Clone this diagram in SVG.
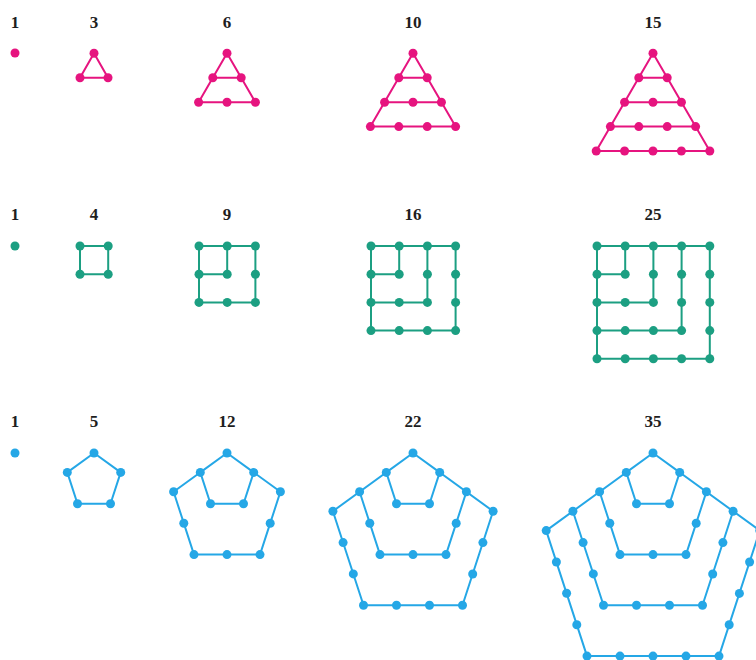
<svg xmlns="http://www.w3.org/2000/svg" width="756" height="660" viewBox="0 0 756 660">
<style>
text{font-family:"Liberation Serif","DejaVu Serif",serif;font-weight:bold;font-size:17px;fill:#1e1e1e;text-anchor:middle}
.tri path{fill:none;stroke:#e6147f;stroke-width:2;stroke-linejoin:round}
.tri circle{fill:#e6147f}
.sq path{fill:none;stroke:#1c9f82;stroke-width:2}
.sq circle{fill:#1c9f82}
.pe path{fill:none;stroke:#25a7e6;stroke-width:2;stroke-linejoin:round}
.pe circle{fill:#25a7e6}
circle{r:4.5}
</style>
<rect width="756" height="660" fill="#fff"/>
<g id="labels">
<text x="15" y="28">1</text><text x="94" y="28">3</text><text x="227" y="28">6</text><text x="413" y="28">10</text><text x="653" y="28">15</text>
<text x="15" y="220">1</text><text x="94" y="220">4</text><text x="227" y="220">9</text><text x="413" y="220">16</text><text x="653" y="220">25</text>
<text x="15" y="427">1</text><text x="94" y="427">5</text><text x="227" y="427">12</text><text x="413" y="427">22</text><text x="653" y="427">35</text>
</g>
<!-- Triangular numbers -->
<g id="tri1" class="tri"><circle cx="15" cy="53" r="4.5"/></g>
<g id="tri3" class="tri">
<path d="M94,53.3 L80,77.8 H108 Z"/>
<circle cx="94" cy="53.3" r="4.5"/><circle cx="80" cy="77.8" r="4.5"/><circle cx="108" cy="77.8" r="4.5"/>
</g>
<g id="tri6" class="tri">
<path d="M227,53.3 L198.6,102.2 H255.4 Z M212.8,77.8 H241.2"/>
<circle cx="227" cy="53.3" r="4.5"/><circle cx="212.8" cy="77.8" r="4.5"/><circle cx="241.2" cy="77.8" r="4.5"/>
<circle cx="198.6" cy="102.2" r="4.5"/><circle cx="227" cy="102.2" r="4.5"/><circle cx="255.4" cy="102.2" r="4.5"/>
</g>
<g id="tri10" class="tri">
<path d="M413,53.3 L370.4,126.6 H455.6 Z M398.8,77.8 H427.2 M384.6,102.2 H441.4"/>
<circle cx="413" cy="53.3" r="4.5"/><circle cx="398.8" cy="77.8" r="4.5"/><circle cx="427.2" cy="77.8" r="4.5"/>
<circle cx="384.6" cy="102.2" r="4.5"/><circle cx="413" cy="102.2" r="4.5"/><circle cx="441.4" cy="102.2" r="4.5"/>
<circle cx="370.4" cy="126.6" r="4.5"/><circle cx="398.8" cy="126.6" r="4.5"/><circle cx="427.2" cy="126.6" r="4.5"/><circle cx="455.6" cy="126.6" r="4.5"/>
</g>
<g id="tri15" class="tri">
<path d="M653,53.3 L596.2,151 H709.8 Z M638.8,77.8 H667.2 M624.6,102.2 H681.4 M610.4,126.6 H695.6"/>
<circle cx="653" cy="53.3" r="4.5"/><circle cx="638.8" cy="77.8" r="4.5"/><circle cx="667.2" cy="77.8" r="4.5"/>
<circle cx="624.6" cy="102.2" r="4.5"/><circle cx="653" cy="102.2" r="4.5"/><circle cx="681.4" cy="102.2" r="4.5"/>
<circle cx="610.4" cy="126.6" r="4.5"/><circle cx="638.8" cy="126.6" r="4.5"/><circle cx="667.2" cy="126.6" r="4.5"/><circle cx="695.6" cy="126.6" r="4.5"/>
<circle cx="596.2" cy="151" r="4.5"/><circle cx="624.6" cy="151" r="4.5"/><circle cx="653" cy="151" r="4.5"/><circle cx="681.4" cy="151" r="4.5"/><circle cx="709.8" cy="151" r="4.5"/>
</g>
<!-- Square numbers -->
<g id="sq1" class="sq"><circle cx="15" cy="246" r="4.5"/></g>
<g id="sq4" class="sq">
<path d="M80,246 H108.2 V274.2 H80 Z"/>
<circle cx="80" cy="246" r="4.5"/><circle cx="108.2" cy="246" r="4.5"/><circle cx="80" cy="274.2" r="4.5"/><circle cx="108.2" cy="274.2" r="4.5"/>
</g>
<g id="sq9" class="sq">
<path d="M199,246 H255.4 V302.4 H199 Z M227.2,246 V274.2 H199"/>
<circle cx="199" cy="246" r="4.5"/><circle cx="227.2" cy="246" r="4.5"/><circle cx="255.4" cy="246" r="4.5"/>
<circle cx="199" cy="274.2" r="4.5"/><circle cx="227.2" cy="274.2" r="4.5"/><circle cx="255.4" cy="274.2" r="4.5"/>
<circle cx="199" cy="302.4" r="4.5"/><circle cx="227.2" cy="302.4" r="4.5"/><circle cx="255.4" cy="302.4" r="4.5"/>
</g>
<g id="sq16" class="sq">
<path d="M371,246 H455.6 V330.6 H371 Z M399.2,246 V274.2 H371 M427.4,246 V302.4 H371"/>
<circle cx="371" cy="246" r="4.5"/><circle cx="399.2" cy="246" r="4.5"/><circle cx="427.4" cy="246" r="4.5"/><circle cx="455.6" cy="246" r="4.5"/>
<circle cx="371" cy="274.2" r="4.5"/><circle cx="399.2" cy="274.2" r="4.5"/><circle cx="427.4" cy="274.2" r="4.5"/><circle cx="455.6" cy="274.2" r="4.5"/>
<circle cx="371" cy="302.4" r="4.5"/><circle cx="399.2" cy="302.4" r="4.5"/><circle cx="427.4" cy="302.4" r="4.5"/><circle cx="455.6" cy="302.4" r="4.5"/>
<circle cx="371" cy="330.6" r="4.5"/><circle cx="399.2" cy="330.6" r="4.5"/><circle cx="427.4" cy="330.6" r="4.5"/><circle cx="455.6" cy="330.6" r="4.5"/>
</g>
<g id="sq25" class="sq">
<path d="M597,246 H709.8 V358.8 H597 Z M625.2,246 V274.2 H597 M653.4,246 V302.4 H597 M681.6,246 V330.6 H597"/>
<circle cx="597" cy="246" r="4.5"/><circle cx="625.2" cy="246" r="4.5"/><circle cx="653.4" cy="246" r="4.5"/><circle cx="681.6" cy="246" r="4.5"/><circle cx="709.8" cy="246" r="4.5"/>
<circle cx="597" cy="274.2" r="4.5"/><circle cx="625.2" cy="274.2" r="4.5"/><circle cx="653.4" cy="274.2" r="4.5"/><circle cx="681.6" cy="274.2" r="4.5"/><circle cx="709.8" cy="274.2" r="4.5"/>
<circle cx="597" cy="302.4" r="4.5"/><circle cx="625.2" cy="302.4" r="4.5"/><circle cx="653.4" cy="302.4" r="4.5"/><circle cx="681.6" cy="302.4" r="4.5"/><circle cx="709.8" cy="302.4" r="4.5"/>
<circle cx="597" cy="330.6" r="4.5"/><circle cx="625.2" cy="330.6" r="4.5"/><circle cx="653.4" cy="330.6" r="4.5"/><circle cx="681.6" cy="330.6" r="4.5"/><circle cx="709.8" cy="330.6" r="4.5"/>
<circle cx="597" cy="358.8" r="4.5"/><circle cx="625.2" cy="358.8" r="4.5"/><circle cx="653.4" cy="358.8" r="4.5"/><circle cx="681.6" cy="358.8" r="4.5"/><circle cx="709.8" cy="358.8" r="4.5"/>
</g>
<!-- Pentagonal numbers -->
<g id="pe1" class="pe"><circle cx="15" cy="453" r="4.5"/></g>
<g id="pe5" class="pe">
<path d="M94,453 L120.7,472.4 L110.5,503.8 L77.5,503.8 L67.3,472.4 Z"/>
<circle cx="94" cy="453" r="4.5"/><circle cx="120.7" cy="472.4" r="4.5"/><circle cx="110.5" cy="503.8" r="4.5"/><circle cx="77.5" cy="503.8" r="4.5"/><circle cx="67.3" cy="472.4" r="4.5"/>
</g>
<g id="pe12" class="pe">
<path d="M227,453 L253.7,472.4 L243.5,503.8 L210.5,503.8 L200.3,472.4 Z M227,453 L280.4,491.8 L260,554.6 L194,554.6 L173.6,491.8 Z"/>
<circle cx="227" cy="453" r="4.5"/><circle cx="253.7" cy="472.4" r="4.5"/><circle cx="243.5" cy="503.8" r="4.5"/><circle cx="210.5" cy="503.8" r="4.5"/><circle cx="200.3" cy="472.4" r="4.5"/>
<circle cx="280.4" cy="491.8" r="4.5"/><circle cx="270.2" cy="523.2" r="4.5"/><circle cx="260" cy="554.6" r="4.5"/><circle cx="227" cy="554.6" r="4.5"/><circle cx="194" cy="554.6" r="4.5"/><circle cx="183.8" cy="523.2" r="4.5"/><circle cx="173.6" cy="491.8" r="4.5"/>
</g>
<g id="pe22" class="pe">
<path d="M413,453 L439.7,472.4 L429.5,503.8 L396.5,503.8 L386.3,472.4 Z M413,453 L466.4,491.8 L446,554.6 L380,554.6 L359.6,491.8 Z M413,453 L493.1,511.2 L462.5,605.3 L363.5,605.3 L332.9,511.2 Z"/>
<circle cx="413" cy="453" r="4.5"/><circle cx="439.7" cy="472.4" r="4.5"/><circle cx="429.5" cy="503.8" r="4.5"/><circle cx="396.5" cy="503.8" r="4.5"/><circle cx="386.3" cy="472.4" r="4.5"/>
<circle cx="466.4" cy="491.8" r="4.5"/><circle cx="456.2" cy="523.2" r="4.5"/><circle cx="446" cy="554.6" r="4.5"/><circle cx="413" cy="554.6" r="4.5"/><circle cx="380" cy="554.6" r="4.5"/><circle cx="369.8" cy="523.2" r="4.5"/><circle cx="359.6" cy="491.8" r="4.5"/>
<circle cx="493.1" cy="511.2" r="4.5"/><circle cx="482.9" cy="542.6" r="4.5"/><circle cx="472.7" cy="574" r="4.5"/><circle cx="462.5" cy="605.3" r="4.5"/><circle cx="429.5" cy="605.3" r="4.5"/><circle cx="396.5" cy="605.3" r="4.5"/><circle cx="363.5" cy="605.3" r="4.5"/><circle cx="353.3" cy="573.9" r="4.5"/><circle cx="343.1" cy="542.6" r="4.5"/><circle cx="332.9" cy="511.2" r="4.5"/>
</g>
<g id="pe35" class="pe">
<path d="M653,453 L679.7,472.4 L669.5,503.8 L636.5,503.8 L626.3,472.4 Z M653,453 L706.4,491.8 L686,554.6 L620,554.6 L599.6,491.8 Z M653,453 L733.1,511.2 L702.5,605.3 L603.5,605.3 L572.9,511.2 Z M653,453 L759.8,530.6 L719,656.1 L587,656.1 L546.2,530.6 Z"/>
<circle cx="653" cy="453" r="4.5"/><circle cx="679.7" cy="472.4" r="4.5"/><circle cx="669.5" cy="503.8" r="4.5"/><circle cx="636.5" cy="503.8" r="4.5"/><circle cx="626.3" cy="472.4" r="4.5"/>
<circle cx="706.4" cy="491.8" r="4.5"/><circle cx="696.2" cy="523.2" r="4.5"/><circle cx="686" cy="554.6" r="4.5"/><circle cx="653" cy="554.6" r="4.5"/><circle cx="620" cy="554.6" r="4.5"/><circle cx="609.8" cy="523.2" r="4.5"/><circle cx="599.6" cy="491.8" r="4.5"/>
<circle cx="733.1" cy="511.2" r="4.5"/><circle cx="722.9" cy="542.6" r="4.5"/><circle cx="712.7" cy="574" r="4.5"/><circle cx="702.5" cy="605.3" r="4.5"/><circle cx="669.5" cy="605.3" r="4.5"/><circle cx="636.5" cy="605.3" r="4.5"/><circle cx="603.5" cy="605.3" r="4.5"/><circle cx="593.3" cy="573.9" r="4.5"/><circle cx="583.1" cy="542.6" r="4.5"/><circle cx="572.9" cy="511.2" r="4.5"/>
<circle cx="759.8" cy="530.6" r="4.5"/><circle cx="749.6" cy="562" r="4.5"/><circle cx="739.4" cy="593.4" r="4.5"/><circle cx="729.2" cy="624.8" r="4.5"/><circle cx="719" cy="656.1" r="4.5"/><circle cx="686" cy="656.1" r="4.5"/><circle cx="653" cy="656.1" r="4.5"/><circle cx="620" cy="656.1" r="4.5"/><circle cx="587" cy="656.1" r="4.5"/><circle cx="576.8" cy="624.7" r="4.5"/><circle cx="566.6" cy="593.3" r="4.5"/><circle cx="556.4" cy="562" r="4.5"/><circle cx="546.2" cy="530.6" r="4.5"/>
</g>
</svg>
